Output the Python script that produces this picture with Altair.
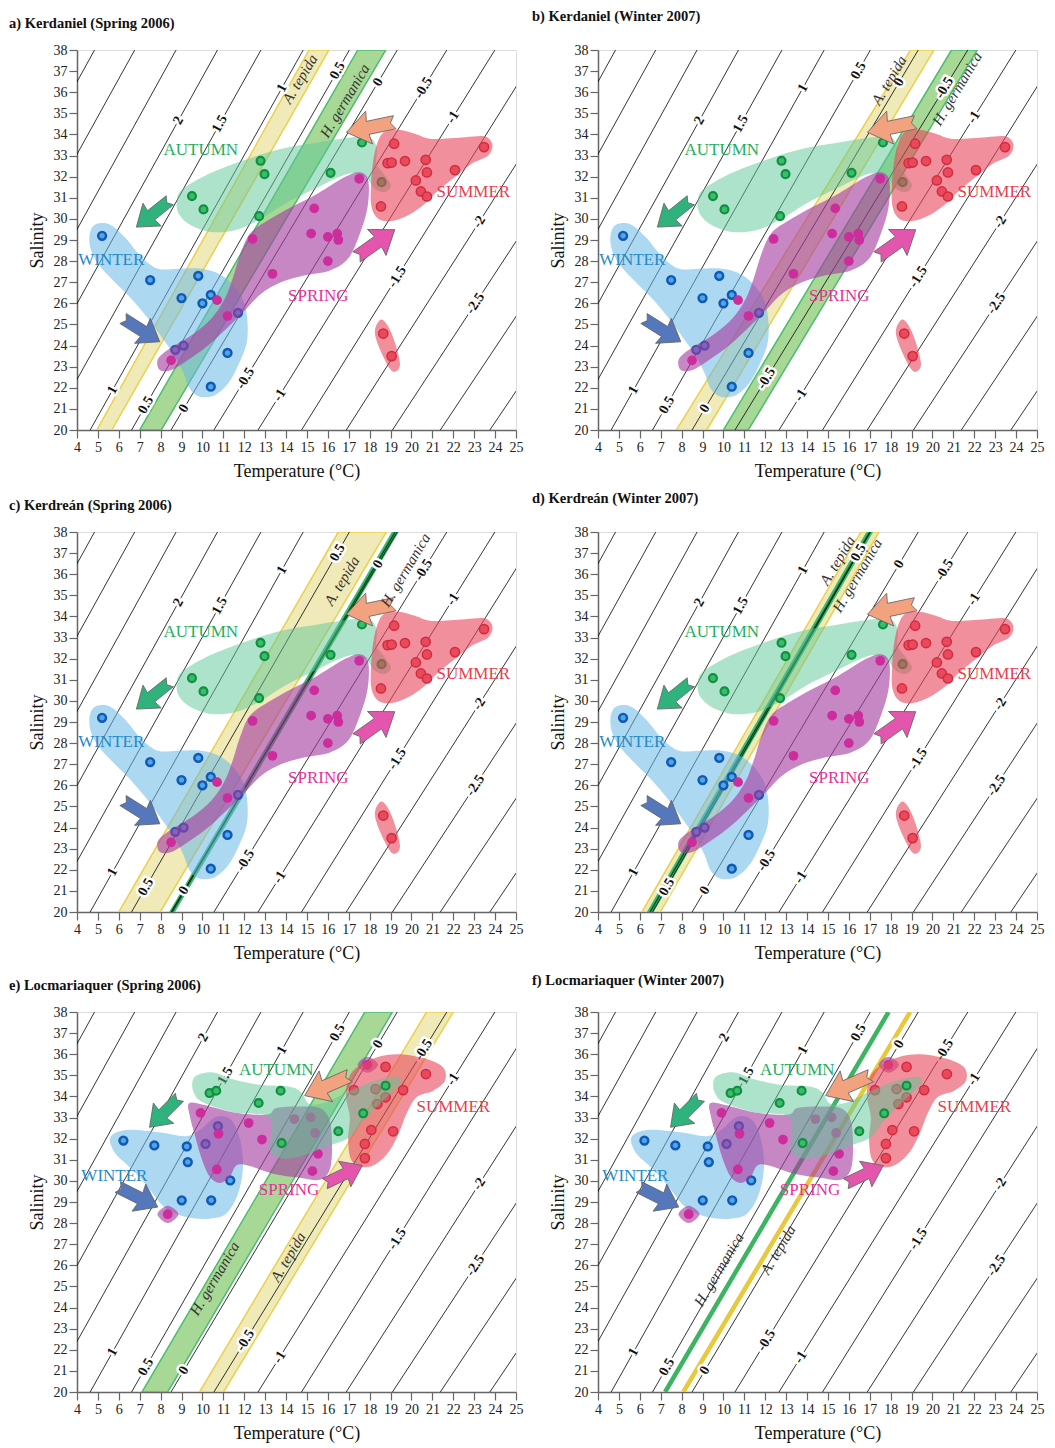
import math
import altair as alt
import pandas as pd

FONT = "Liberation Serif"
W, H = 439, 380
T_DOM = [4, 25]
S_DOM = [20, 38]
PX_T = W / 21.0
PX_S = H / 18.0

# ---------------- isolines (delta18O of calcite) ----------------
ISO_D = [3.5, 3, 2.5, 2, 1.5, 1, 0.5, 0, -0.5, -1, -1.5, -2, -2.5, -3, -3.5]
ISO_T20 = [-5.2, -3.3, -1.3, 0.65, 2.65, 4.63, 6.61, 8.50, 10.55, 12.66, 14.74, 16.88, 19.09, 21.38, 23.75]
ISO_T38 = [4.84, 6.76, 8.74, 10.72, 12.80, 14.82, 17.03, 19.32, 21.69, 23.99, 26.1, 28.5, 31.0, 33.5, 36.0]

LAB_TEXT = ["2", "1.5", "1", "0.5", "0", "-0.5", "-1", "-1.5", "-2", "-2.5", "1", "0.5", "0", "-0.5", "-1"]
LAB_S_K = [34.66, 34.5, 36.2, 37.02, 36.47, 36.2, 34.82, 27.25, 29.85, 25.99, 21.89, 21.18, 21.02, 22.44, 21.65]
LAB_S_L = [36.79, 34.98, 36.2, 37.02, 36.47, 36.2, 34.82, 27.25, 29.85, 25.99, 21.89, 21.18, 21.02, 22.44, 21.65]

# ---------------- Kerdaniel / Kerdrean points ----------------
K_WINTER_T = [5.2, 7.5, 9.0, 9.8, 10.0, 10.4, 11.7, 8.7, 9.1, 11.2, 10.4]
K_WINTER_S = [29.2, 27.1, 26.25, 27.3, 26.0, 26.4, 25.55, 23.8, 24.0, 23.65, 22.05]
K_SPRING_T = [8.5, 10.7, 11.2, 12.4, 13.35, 15.35, 15.2, 16.0, 16.45, 16.5, 16.0, 17.5]
K_SPRING_S = [23.3, 26.15, 25.4, 29.05, 27.4, 30.5, 29.3, 29.15, 29.3, 29.0, 28.0, 31.9]
K_AUTUMN_T = [9.5, 10.05, 12.78, 12.97, 12.71, 16.13, 17.63, 18.57]
K_AUTUMN_S = [31.08, 30.45, 32.75, 32.12, 30.13, 32.18, 33.62, 31.74]
K_SUMMER_T = [19.17, 18.86, 19.05, 19.69, 20.68, 20.74, 20.21, 20.45, 20.74, 22.08, 23.47, 18.54, 18.65, 19.05]
K_SUMMER_S = [33.56, 32.64, 32.67, 32.74, 32.8, 32.2, 31.82, 31.3, 31.06, 32.31, 33.4, 30.59, 24.57, 23.5]

# ---------------- Locmariaquer points ----------------
L_WINTER_T = [6.22, 7.7, 9.25, 9.3, 10.15, 10.74, 11.33, 9.01, 10.42]
L_WINTER_S = [31.91, 31.68, 31.63, 30.89, 31.75, 32.59, 30.02, 29.08, 29.08]
L_SPRING_T = [9.91, 10.77, 10.69, 12.21, 12.85, 14.4, 15.18, 15.39, 15.53, 15.26, 8.34, 17.89]
L_SPRING_S = [33.22, 32.23, 30.54, 32.74, 31.96, 32.93, 33.01, 32.27, 31.28, 30.46, 28.42, 35.5]
L_AUTUMN_T = [10.34, 10.66, 12.69, 13.74, 13.79, 16.5, 17.69, 18.76]
L_AUTUMN_S = [34.16, 34.27, 33.69, 34.27, 31.79, 32.35, 33.2, 34.51]
L_SUMMER_T = [18.76, 20.69, 17.25, 18.28, 19.6, 18.76, 18.37, 18.08, 19.12, 17.77, 17.77]
L_SUMMER_S = [35.4, 35.06, 34.3, 34.35, 34.3, 33.96, 33.64, 32.41, 32.35, 31.75, 31.08]

# ---------------- season envelopes (outline vertices) ----------------
K_WINTER_BLOB_T = [4.61, 4.88, 5.56, 6.28, 7.08, 7.88, 8.83, 9.95, 10.83, 11.47, 11.95, 12.15, 12.11, 11.71, 11.23,
                   10.59, 9.87, 9.39, 9.07, 8.6, 8.04, 7.4, 6.6, 5.72, 5.01, 4.65]
K_WINTER_BLOB_S = [29.3, 29.74, 29.74, 29.14, 28.2, 27.64, 27.64, 27.64, 27.38, 26.86, 26.15, 25.2, 24.1, 23.07, 22.21,
                   21.65, 21.58, 21.97, 22.76, 23.62, 24.41, 25.28, 26.22, 27.09, 27.88, 28.59]
K_SPRING_BLOB_T = [7.85, 8.2, 8.83, 9.63, 10.43, 11.07, 11.47, 11.79, 12.27, 13.14, 14.26, 15.54, 16.81, 17.53, 17.93,
                   17.9, 17.53, 16.97, 16.1, 14.9, 13.78, 12.82, 11.95, 11.07, 10.19, 9.31, 8.52, 7.96]
K_SPRING_BLOB_S = [23.31, 23.7, 24.1, 24.6, 25.28, 26.22, 27.25, 28.27, 29.3, 29.93, 30.56, 31.22, 31.98, 32.21, 31.82,
                   30.56, 29.3, 28.12, 27.56, 27.33, 27.01, 26.46, 25.59, 24.73, 23.94, 23.31, 22.84, 22.84]
K_AUTUMN_BLOB_T = [8.76, 8.91, 9.55, 10.59, 12.19, 13.78, 15.38, 16.97, 17.93, 18.33, 18.33, 18.73, 19.02, 18.73,
                   18.25, 17.77, 16.97, 15.38, 13.94, 12.66, 11.55, 10.43, 9.47, 8.91]
K_AUTUMN_BLOB_S = [30.72, 31.27, 31.74, 32.26, 32.85, 33.32, 33.59, 33.84, 33.9, 33.4, 32.61, 32.06, 31.58, 31.27,
                   31.43, 31.98, 32.14, 31.43, 30.72, 29.93, 29.46, 29.38, 29.69, 30.17]
K_SUMMER_BLOB_T = [18.06, 18.17, 18.41, 18.73, 19.37, 20.16, 20.96, 22.56, 23.51, 23.87, 23.67, 22.88, 22.08, 21.28,
                   20.64, 19.84, 19.05, 18.41, 18.09]
K_SUMMER_BLOB_S = [31.51, 32.77, 33.71, 34.14, 34.22, 34.03, 33.79, 33.87, 33.9, 33.52, 33.0, 32.61, 31.98, 31.35,
                   30.72, 30.17, 29.9, 30.01, 30.56]
K_SUMMER_BLOB2_T = [18.57, 19.05, 19.45, 19.13, 18.73, 18.25]
K_SUMMER_BLOB2_S = [25.23, 24.57, 23.15, 22.76, 23.31, 24.57]

L_WINTER_BLOB_T = [5.6, 6.35, 7.94, 9.22, 9.94, 10.66, 11.38, 11.81, 11.94, 11.7, 11.14, 10.34, 9.22, 8.26, 7.63,
                   6.99, 6.35, 5.79]
L_WINTER_BLOB_S = [32.07, 32.41, 32.3, 32.12, 32.46, 33.04, 32.89, 31.91, 30.65, 29.39, 28.45, 28.21, 28.29, 28.69,
                   29.39, 30.18, 30.81, 31.36]
L_SPRING_BLOB_T = [9.35, 10.02, 10.82, 11.78, 13.13, 13.53, 14.65, 15.61, 16.09, 16.2, 16.09, 15.61, 14.65, 13.37,
                   12.18, 11.62, 11.3, 10.82, 10.34, 9.94, 9.62, 9.41]
L_SPRING_BLOB_S = [33.67, 33.61, 33.41, 33.2, 33.14, 33.45, 33.52, 33.45, 32.86, 31.6, 30.53, 30.05, 30.15, 30.34,
                   30.73, 30.73, 30.18, 29.9, 30.21, 31.12, 32.23, 33.01]
L_SPRING_BLOB2_T = [7.85, 8.34, 8.85, 8.34]
L_SPRING_BLOB2_S = [28.42, 28.82, 28.42, 28.0]
L_SPRING_BLOB3_T = [17.42, 17.9, 18.4, 17.9]
L_SPRING_BLOB3_S = [35.5, 35.88, 35.5, 35.12]
L_AUTUMN_BLOB_T = [9.51, 9.7, 10.5, 11.46, 12.74, 14.17, 14.73, 15.13, 15.93, 16.89, 18.16, 19.28, 19.44, 18.64,
                   17.69, 17.05, 16.09, 14.65, 13.69, 13.21, 13.29, 13.05, 11.46, 10.02, 9.62]
L_AUTUMN_BLOB_S = [34.59, 34.98, 35.14, 34.82, 34.55, 34.46, 34.19, 33.64, 33.72, 34.19, 34.71, 34.93, 34.59, 33.8,
                   32.86, 32.07, 31.68, 31.16, 31.09, 31.44, 32.38, 33.09, 33.25, 33.72, 34.11]
L_SUMMER_BLOB_T = [16.89, 17.21, 18.32, 19.44, 20.72, 21.52, 21.6, 21.04, 20.24, 19.76, 19.44, 18.96, 18.32, 17.69,
                   17.13, 16.97, 17.05, 16.89]
L_SUMMER_BLOB_S = [34.43, 35.22, 35.84, 36.0, 35.77, 35.37, 34.74, 34.27, 33.96, 33.17, 32.38, 31.44, 30.81, 30.65,
                   30.97, 31.91, 33.01, 33.8]

# ---------------- seasonal arrows (tail -> tip) ----------------
ARROW_COL = ["#2fb27c", "#5577bb", "#f2a27e", "#e455ad"]
K_ARROW_T0 = [8.44, 6.2, 19.2, 17.37]
K_ARROW_S0 = [30.88, 25.28, 34.58, 28.2]
K_ARROW_T1 = [6.84, 7.96, 16.89, 19.2]
K_ARROW_S1 = [29.61, 24.18, 34.1, 29.49]
L_ARROW_T0 = [8.9, 5.95, 17.05, 15.85]
L_ARROW_S0 = [33.96, 29.71, 34.98, 29.87]
L_ARROW_T1 = [7.47, 7.86, 14.89, 17.65]
L_ARROW_S1 = [32.54, 28.76, 34.04, 30.73]

# ---------------- season names ----------------
SEASONS = ["AUTUMN", "WINTER", "SPRING", "SUMMER"]
SEASON_COL = ["#1fae5e", "#1f8ac8", "#e8309a", "#e8404e"]
K_SEASON_T = [9.92, 5.64, 15.54, 22.96]
K_SEASON_S = [33.27, 28.07, 26.35, 31.27]
L_SEASON_T = [13.53, 5.79, 14.14, 22.0]
L_SEASON_S = [35.26, 30.25, 29.58, 33.48]

ARROW_PATH = "M -1 -0.27 L 0.12 -0.27 L 0.06 -0.68 L 1 0 L 0.06 0.68 L 0.12 0.27 L -1 0.27 L -0.82 0 Z"

# ---------------- axes / encodings ----------------
X_AX = alt.Axis(values=list(range(4, 26)), title="Temperature (°C)", tickSize=8, tickColor="#666",
                domainColor="#666", domainWidth=1.5, tickWidth=1.2, labelFont=FONT, labelFontSize=14,
                labelColor="#222", titleFont=FONT, titleFontSize=18, titleFontWeight="normal",
                titleColor="#111", labelPadding=2, titlePadding=8, grid=False, labelFlush=False,
                labelOverlap=False)
Y_AX = alt.Axis(values=list(range(20, 39)), title="Salinity", tickSize=8, tickColor="#666",
                domainColor="#666", domainWidth=1.5, tickWidth=1.2, labelFont=FONT, labelFontSize=14,
                labelColor="#222", titleFont=FONT, titleFontSize=18, titleFontWeight="normal",
                titleColor="#111", labelPadding=2, titlePadding=7, grid=False, labelFlush=False,
                labelOverlap=False)
XS = alt.Scale(domain=T_DOM, nice=False, zero=False)
YS = alt.Scale(domain=S_DOM, nice=False, zero=False)
X = alt.X("t:Q", scale=XS, axis=X_AX)
Y = alt.Y("s:Q", scale=YS, axis=Y_AX)


def poly_df(blobs):
    rows = []
    for k, (ts, ss) in enumerate(blobs):
        for i, (t, s) in enumerate(zip(ts, ss)):
            rows.append({"t": t, "s": s, "i": i, "id": k})
    return pd.DataFrame(rows)


def polygon_layer(blobs, fill, opacity, interp="cardinal-closed", stroke=None, sw=0.0, clip=False):
    kw = dict(fill=fill, fillOpacity=opacity, interpolate=interp, clip=clip)
    if stroke:
        kw.update(stroke=stroke, strokeWidth=sw)
    else:
        kw.update(strokeOpacity=0)
    return alt.Chart(poly_df(blobs)).mark_line(**kw).encode(
        x=X, y=Y, order="i:Q", detail="id:N")


def isolines_layer():
    rows = []
    for k, (a, b) in enumerate(zip(ISO_T20, ISO_T38)):
        rows.append({"t": a, "s": 20, "i": 0, "id": k})
        rows.append({"t": b, "s": 38, "i": 1, "id": k})
    return alt.Chart(pd.DataFrame(rows)).mark_line(color="black", strokeWidth=0.8, clip=True).encode(
        x=X, y=Y, order="i:Q", detail="id:N")


def line_angle(t20, t38):
    return (360 - math.degrees(math.atan2(18 * PX_S, (t38 - t20) * PX_T))) % 360


def iso_labels(lab_s):
    rows = []
    for txt, s in zip(LAB_TEXT, lab_s):
        k = ISO_D.index(float(txt))
        t20, t38 = ISO_T20[k], ISO_T38[k]
        t = t20 + (s - 20) / 18.0 * (t38 - t20)
        rows.append({"t": t, "s": s, "txt": txt, "ang": line_angle(t20, t38)})
    df = pd.DataFrame(rows)
    enc = dict(x=X, y=Y, text="txt:N", angle=alt.Angle("ang:Q", scale=None))
    halo = alt.Chart(df).mark_text(font=FONT, fontSize=14, fontWeight="bold", stroke="white",
                                   strokeWidth=5, strokeJoin="round", color="white").encode(**enc)
    txt = alt.Chart(df).mark_text(font=FONT, fontSize=14, fontWeight="bold", color="#111").encode(**enc)
    return [halo, txt]


def points_layer(ts, ss, fill, stroke, sw, size):
    df = pd.DataFrame({"t": ts, "s": ss})
    kw = dict(size=size, fill=fill, opacity=1, fillOpacity=1)
    if stroke:
        kw.update(stroke=stroke, strokeWidth=sw)
    return alt.Chart(df).mark_circle(**kw).encode(x=X, y=Y)


def arrows_layer(t0, s0, t1, s1):
    rows = []
    for a, b, c, d, col in zip(t0, s0, t1, s1, ARROW_COL):
        dx = (c - a) * PX_T
        dy = -(d - b) * PX_S
        ang = math.degrees(math.atan2(dy, dx)) % 360
        length = math.hypot(dx, dy)
        rows.append({"t": (a + c) / 2, "s": (b + d) / 2, "ang": ang, "sz": length ** 2, "col": col})
    df = pd.DataFrame(rows)
    return alt.Chart(df).mark_point(shape=ARROW_PATH, filled=True, opacity=1, stroke="#666",
                                    strokeWidth=0.8).encode(
        x=X, y=Y, angle=alt.Angle("ang:Q", scale=None), size=alt.Size("sz:Q", scale=None),
        fill=alt.Fill("col:N", scale=None))


def season_labels(ts, ss):
    df = pd.DataFrame({"t": ts, "s": ss, "txt": SEASONS, "col": SEASON_COL})
    return alt.Chart(df).mark_text(font=FONT, fontSize=17).encode(
        x=X, y=Y, text="txt:N", color=alt.Color("col:N", scale=None))


def band_labels(ts, ss, names, angs):
    df = pd.DataFrame({"t": ts, "s": ss, "txt": names, "ang": angs})
    return alt.Chart(df).mark_text(font=FONT, fontSize=15, fontStyle="italic", color="#333").encode(
        x=X, y=Y, text="txt:N", angle=alt.Angle("ang:Q", scale=None))


YELLOW_FILL, YELLOW_EDGE = "#efe9b4", "#eccf4a"
GREEN_FILL, GREEN_EDGE = "#9ed48a", "#4cbc72"


def band(tb, tt):
    return ([tb[0], tb[1], tt[1], tt[0]], [20, 20, 38, 38])


def panel(title, title_dy, title_dx, site, bands_spec, blab):
    layers = []
    for kind, tb, tt in bands_spec:
        if kind == "yellow":
            layers.append(polygon_layer([band(tb, tt)], YELLOW_FILL, 0.95, "linear-closed", YELLOW_EDGE, 1.5, True))
        elif kind == "green":
            layers.append(polygon_layer([band(tb, tt)], GREEN_FILL, 0.9, "linear-closed", GREEN_EDGE, 1.5, True))
        elif kind == "greenthin":
            layers.append(polygon_layer([band(tb, tt)], "#3aa860", 1.0, "linear-closed", "#3cbc6a", 1.5, True))
        elif kind == "darkline":
            df = pd.DataFrame({"t": [tb, tt], "s": [20, 38], "i": [0, 1]})
            layers.append(alt.Chart(df).mark_line(color="#0f4f2a", strokeWidth=1.4, clip=True).encode(
                x=X, y=Y, order="i:Q"))
        elif kind in ("greenline", "yellowline"):
            col = "#3cb462" if kind == "greenline" else "#e9c93c"
            df = pd.DataFrame({"t": [tb, tt], "s": [20, 38], "i": [0, 1]})
            layers.append(alt.Chart(df).mark_line(color=col, strokeWidth=4.5, clip=True).encode(
                x=X, y=Y, order="i:Q"))
    layers.append(isolines_layer())

    if site == "K":
        winter = (polygon_layer([(K_WINTER_BLOB_T, K_WINTER_BLOB_S)], "#6ab8e6", 0.55),
                  points_layer(K_WINTER_T, K_WINTER_S, "#4aa8e2", "#1256b8", 2.4, 62))
        spring = (polygon_layer([(K_SPRING_BLOB_T, K_SPRING_BLOB_S)], "#a43ca0", 0.62),
                  points_layer(K_SPRING_T, K_SPRING_S, "#cc2c9c", None, 0, 95))
        autumn = (polygon_layer([(K_AUTUMN_BLOB_T, K_AUTUMN_BLOB_S)], "#5cc896", 0.5),
                  points_layer(K_AUTUMN_T, K_AUTUMN_S, "#3cbc6a", "#0e9040", 2.2, 62))
        summer = (polygon_layer([(K_SUMMER_BLOB_T, K_SUMMER_BLOB_S), (K_SUMMER_BLOB2_T, K_SUMMER_BLOB2_S)],
                                "#e8445a", 0.6),
                  points_layer(K_SUMMER_T, K_SUMMER_S, "#e84a5c", "#d42a40", 1.5, 85))
        order = [autumn, winter, spring, summer]
        lab_s = LAB_S_K
        arrows = arrows_layer(K_ARROW_T0, K_ARROW_S0, K_ARROW_T1, K_ARROW_S1)
        seas = season_labels(K_SEASON_T, K_SEASON_S)
    else:
        winter = (polygon_layer([(L_WINTER_BLOB_T, L_WINTER_BLOB_S)], "#6ab8e6", 0.55),
                  points_layer(L_WINTER_T, L_WINTER_S, "#4aa8e2", "#1256b8", 2.4, 62))
        spring = (polygon_layer([(L_SPRING_BLOB_T, L_SPRING_BLOB_S), (L_SPRING_BLOB2_T, L_SPRING_BLOB2_S),
                                 (L_SPRING_BLOB3_T, L_SPRING_BLOB3_S)], "#a43ca0", 0.62),
                  points_layer(L_SPRING_T, L_SPRING_S, "#cc2c9c", None, 0, 95))
        autumn = (polygon_layer([(L_AUTUMN_BLOB_T, L_AUTUMN_BLOB_S)], "#5cc896", 0.5),
                  points_layer(L_AUTUMN_T, L_AUTUMN_S, "#3cbc6a", "#0e9040", 2.2, 62))
        summer = (polygon_layer([(L_SUMMER_BLOB_T, L_SUMMER_BLOB_S)], "#e8445a", 0.6),
                  points_layer(L_SUMMER_T, L_SUMMER_S, "#e84a5c", "#d42a40", 1.5, 85))
        order = [winter, spring, summer, autumn]
        lab_s = LAB_S_L
        arrows = arrows_layer(L_ARROW_T0, L_ARROW_S0, L_ARROW_T1, L_ARROW_S1)
        seas = season_labels(L_SEASON_T, L_SEASON_S)

    layers += iso_labels(lab_s)
    for blob, pts in order:
        layers.append(blob)
        layers.append(pts)
    layers.append(arrows)
    layers.append(seas)
    layers.append(band_labels(*blab))
    return alt.layer(*layers).properties(
        width=W, height=H,
        title=alt.TitleParams(title, anchor="start", font=FONT, fontSize=14.5, fontWeight="bold",
                              color="#111", offset=12, dx=title_dx, dy=title_dy))


ANG = line_angle(8.5, 19.32)
NAMES_TG = ["A. tepida", "H. germanica"]
NAMES_GT = ["H. germanica", "A. tepida"]

pa = panel("a) Kerdaniel (Spring 2006)", 0, -19, "K",
           [("yellow", [4.95, 5.66], [15.1, 16.05]), ("green", [7.0, 8.03], [17.43, 18.77])],
           ([14.66, 16.81], [36.63, 35.6], NAMES_TG, [ANG, ANG]))
pb = panel("b) Kerdaniel (Winter 2007)", -7, -17, "K",
           [("yellow", [7.75, 9.2], [18.95, 20.07]), ("green", [10.0, 11.19], [20.91, 22.14])],
           ([17.92, 21.18], [36.57, 36.17], NAMES_TG, [ANG, ANG]))
pc = panel("c) Kerdreán (Spring 2006)", 0, -19, "K",
           [("yellow", [6.0, 7.98], [16.5, 18.8]), ("greenthin", [8.45, 8.65], [19.1, 19.35]),
            ("darkline", 8.55, 19.22)],
           ([16.67, 19.71], [35.69, 36.2], NAMES_TG, [ANG, ANG]))
pd_ = panel("d) Kerdreán (Winter 2007)", -7, -17, "K",
            [("yellow", [6.1, 6.98], [16.57, 17.44]), ("greenthin", [6.38, 6.62], [16.88, 17.12]),
             ("darkline", 6.49, 17.0)],
            ([15.45, 16.4], [36.65, 35.94], NAMES_TG, [ANG, ANG]))
pe = panel("e) Locmariaquer (Spring 2006)", 0, -19, "L",
           [("green", [7.11, 8.34], [17.77, 19.09]), ("yellow", [9.86, 11.01], [20.72, 22.0])],
           ([10.58, 14.09], [25.38, 26.4], NAMES_GT, [ANG, ANG]))
pf = panel("f) Locmariaquer (Winter 2007)", -5, -17, "L",
           [("greenline", 7.21, 17.9), ("yellowline", 8.08, 18.93)],
           ([9.78, 12.61], [25.8, 26.74], NAMES_GT, [ANG, ANG]))

chart = alt.vconcat(
    alt.hconcat(pa, pb, spacing=7),
    alt.hconcat(pc, pd_, spacing=7),
    alt.hconcat(pe, pf, spacing=7),
    spacing=9,
).properties(
    padding={"left": 0, "top": 0, "right": 0, "bottom": 0}
).configure_view(stroke="black", strokeWidth=1).configure(background="white")

chart.save("out.html", embed_options={"renderer": "svg", "actions": False})
